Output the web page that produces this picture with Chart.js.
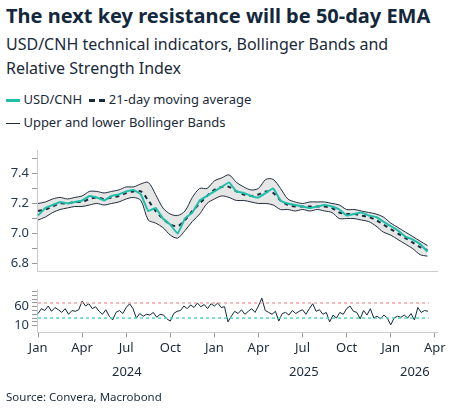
<!DOCTYPE html>
<html><head><meta charset="utf-8">
<script src="https://cdn.jsdelivr.net/npm/chart.js@4"></script>
<style>
body{margin:0;width:453px;height:417px;position:relative;font-family:"Noto Sans",sans-serif;color:#1a2a3a;background:#fff;overflow:hidden}
.t{position:absolute;left:6px;white-space:nowrap}
canvas{position:absolute;left:0}
</style></head><body>
<div class="t" style="top:2px;font-size:20px;font-weight:bold;color:#13283d">The next key resistance will be 50-day EMA</div>
<div class="t" style="top:32px;font-size:16px;line-height:24px;color:#1a2a3a">USD/CNH technical indicators, Bollinger Bands and<br>Relative Strength Index</div>
<div class="t" style="top:90px;font-size:13px"><span style="display:inline-block;width:14px;height:3px;background:#1fbfa9;vertical-align:middle"></span> USD/CNH <span style="display:inline-block;width:16px;border-top:3px dashed #1a2b3c;vertical-align:middle;margin-left:4px"></span> 21-day moving average</div>
<div class="t" style="top:113px;font-size:13px"><span style="display:inline-block;width:14px;height:1px;background:#1f2d3d;vertical-align:middle"></span> Upper and lower Bollinger Bands</div>
<canvas id="main" width="453" height="142" style="top:140px;width:453px;height:142px"></canvas>
<canvas id="rsi" width="453" height="80" style="top:279px;width:453px;height:80px"></canvas>
<div class="t" style="top:362px;left:112px;font-size:13px">2024</div>
<div class="t" style="top:362px;left:289px;font-size:13px">2025</div>
<div class="t" style="top:362px;left:400px;font-size:13px">2026</div>
<div class="t" style="top:389px;font-size:11.5px">Source: Convera, Macrobond</div>
<script>
// months since Jan 2024, every half month
const xs = [];
for (let i = 0; i < 54; i++) xs.push(i * 0.5);
const spot = [7.12,7.17,7.19,7.21,7.20,7.21,7.22,7.25,7.24,7.22,7.25,7.26,7.28,7.29,7.26,7.15,7.17,7.10,7.06,7.00,
  7.10,7.14,7.22,7.25,7.28,7.31,7.34,7.28,7.27,7.25,7.24,7.27,7.30,7.22,7.20,7.19,7.18,7.17,7.18,7.19,
  7.18,7.16,7.12,7.13,7.14,7.12,7.11,7.08,7.05,7.02,6.98,6.96,6.93,6.88];
const ma = [7.15,7.16,7.18,7.20,7.20,7.21,7.21,7.23,7.24,7.23,7.24,7.25,7.27,7.28,7.28,7.22,7.15,7.10,7.06,7.05,
  7.09,7.15,7.20,7.25,7.29,7.31,7.31,7.28,7.26,7.25,7.26,7.28,7.27,7.22,7.19,7.18,7.18,7.18,7.18,7.18,
  7.17,7.14,7.13,7.13,7.12,7.11,7.09,7.06,7.03,7.00,6.97,6.94,6.91,6.89];
const upper = [7.20,7.21,7.23,7.24,7.23,7.24,7.25,7.28,7.28,7.27,7.28,7.29,7.31,7.31,7.33,7.34,7.26,7.17,7.13,7.12,
  7.15,7.24,7.30,7.30,7.35,7.37,7.39,7.34,7.31,7.29,7.30,7.36,7.36,7.30,7.23,7.21,7.20,7.21,7.21,7.21,
  7.20,7.19,7.16,7.16,7.15,7.14,7.13,7.11,7.07,7.04,7.01,6.98,6.95,6.92];
const lower = [7.09,7.11,7.14,7.16,7.17,7.18,7.18,7.19,7.20,7.19,7.20,7.21,7.23,7.24,7.22,7.09,7.07,7.04,6.99,6.97,
  7.02,7.08,7.13,7.20,7.23,7.25,7.24,7.22,7.22,7.21,7.20,7.20,7.19,7.16,7.16,7.15,7.16,7.15,7.16,7.15,
  7.14,7.10,7.10,7.10,7.09,7.08,7.05,7.01,6.99,6.96,6.93,6.90,6.86,6.85];
// weekly RSI
const rsi = [42,55,50,62,48,58,52,45,55,40,50,48,52,75,62,68,55,60,48,40,52,35,25,45,50,42,58,68,55,30,
  42,35,40,38,45,32,40,38,28,22,42,48,50,62,55,65,58,70,60,66,55,68,62,70,58,60,20,35,48,42,
  52,40,48,55,45,62,83,50,45,40,48,22,42,45,38,50,42,48,52,40,55,68,48,52,40,45,20,38,30,45,
  40,55,62,48,45,28,50,38,55,30,35,28,38,30,12,30,35,32,38,30,42,25,58,45,50,48];
const mainTicks = [6.8,6.9,7.0,7.1,7.2,7.3,7.4,7.5];
const mainLabels = ['6.8','','7.0','','7.2','','7.4',''];
const monthNames = ['Jan','Apr','Jul','Oct'];
const xMin = -0.07, xMax = 27.15;

const pts = arr => arr.map((v, i) => ({x: xs[i], y: v}));
const fitY = ax => { ax.width = 37; };

new Chart(document.getElementById('main'), {
  type: 'line',
  data: { datasets: [
    {data: pts(lower), borderColor: '#1f2d3d', borderWidth: 1, pointRadius: 0, tension: 0.3, order: 3},
    {data: pts(upper), borderColor: '#1f2d3d', borderWidth: 1, pointRadius: 0, tension: 0.3, order: 2, fill: '-1', backgroundColor: '#e6e6e6'},
    {data: pts(ma), borderColor: '#1a2b3c', borderWidth: 2, borderDash: [4, 4], pointRadius: 0, tension: 0.3, order: 1},
    {data: pts(spot), borderColor: '#1fbfa9', borderWidth: 2, pointRadius: 0, tension: 0.1, order: 0}
  ]},
  options: {
    responsive: false, animation: false,
    layout: {padding: {top: 3, right: 16, bottom: 0, left: 0}},
    plugins: {legend: {display: false}, tooltip: {enabled: false}, filler: {drawTime: 'beforeDatasetsDraw'}},
    scales: {
      x: {type: 'linear', min: xMin, max: xMax, grid: {display: false}, ticks: {display: false},
          border: {color: '#cccccc'}},
      y: {min: 6.75, max: 7.55, afterFit: fitY,
          grid: {drawOnChartArea: false, tickLength: 5, color: '#999'},
          border: {color: '#cccccc'},
          afterBuildTicks: ax => { ax.ticks = mainTicks.map(v => ({value: v})); },
          ticks: {color: '#1f3550', font: {size: 13, family: 'Noto Sans'}, autoSkip: false,
                  callback: (v, i) => mainLabels[i]}}
    }
  }
});

const rsiX = rsi.map((v, i) => ({x: i * 12 / 52, y: v}));
new Chart(document.getElementById('rsi'), {
  type: 'line',
  data: { datasets: [
    {data: [{x: 0, y: 70}, {x: 26.6, y: 70}], borderColor: '#f4a6a0', borderWidth: 1.5, borderDash: [3, 3], pointRadius: 0},
    {data: [{x: 0, y: 30}, {x: 26.6, y: 30}], borderColor: '#4fd6c4', borderWidth: 1.5, borderDash: [3, 3], pointRadius: 0},
    {data: rsiX, borderColor: '#13283d', borderWidth: 1, pointRadius: 0}
  ]},
  options: {
    responsive: false, animation: false,
    layout: {padding: {top: 2, right: 16, bottom: 0, left: 0}},
    plugins: {legend: {display: false}, tooltip: {enabled: false}},
    scales: {
      x: {type: 'linear', min: xMin, max: xMax, grid: {drawOnChartArea: false, tickLength: 5, color: '#999'},
          border: {color: '#cccccc'},
          afterBuildTicks: ax => { ax.ticks = [0,3,6,9,12,15,18,21,24,27].map(v => ({value: v})); },
          ticks: {color: '#1a2a3a', font: {size: 13, family: 'Noto Sans'}, maxRotation: 0, autoSkip: false,
                  callback: v => monthNames[(Math.round(v) / 3) % 4]}},
      y: {min: -8, max: 105, afterFit: fitY,
          grid: {drawOnChartArea: false, tickLength: 5, color: '#999'},
          border: {color: '#cccccc'},
          afterBuildTicks: ax => { ax.ticks = [10,20,30,40,50,60,70,80,90,100].map(v => ({value: v})); },
          ticks: {color: '#1f3550', font: {size: 13, family: 'Noto Sans'}, autoSkip: false,
                  callback: v => (v === 10 || v === 60) ? String(v) : ''}}
    }
  }
});
</script>
</body></html>
